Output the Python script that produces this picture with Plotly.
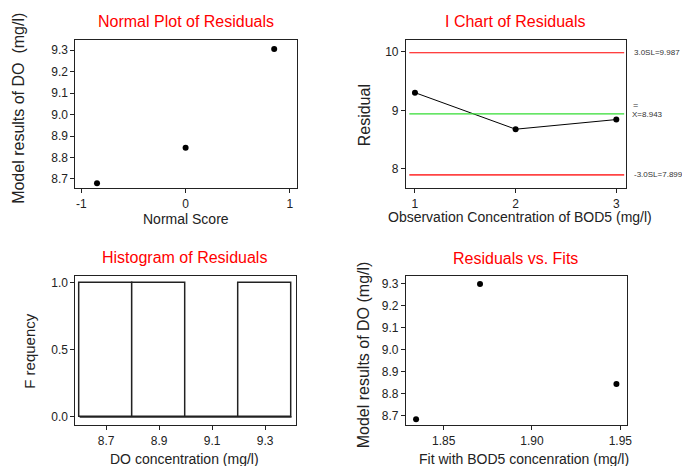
import plotly.graph_objects as go

# ---- data ----
normal_scores = [-0.85, 0.0, 0.85]
do_sorted = [8.68, 8.845, 9.305]

obs_index = [1, 2, 3]
residuals = [9.305, 8.68, 8.845]
center_line = 8.943
ucl = 9.987
lcl = 7.899

hist_left = [8.6, 8.8, 9.0, 9.2]
hist_right = [8.8, 9.0, 9.2, 9.4]
hist_counts = [1, 1, 0, 1]

fits = [1.8344, 1.8706, 1.9478]
fit_do = [8.685, 9.30, 8.845]

W, H = 682, 466
FONT = "Liberation Sans, Arial, sans-serif"


def dx(a, b):
    return [a / W, b / W]


def dy(top, bottom):
    return [1 - bottom / H, 1 - top / H]


fig = go.Figure()

# Panel 1: Normal plot
fig.add_trace(go.Scatter(x=normal_scores, y=do_sorted, mode="markers",
                         marker=dict(color="black", size=6), xaxis="x", yaxis="y"))

# Panel 2: I chart
fig.add_trace(go.Scatter(x=obs_index, y=residuals, mode="lines+markers",
                         line=dict(color="black", width=1),
                         marker=dict(color="black", size=6), xaxis="x2", yaxis="y2"))

# Panel 3: histogram
centers = [(a + b) / 2 for a, b in zip(hist_left, hist_right)]
widths = [b - a for a, b in zip(hist_left, hist_right)]
fig.add_trace(go.Bar(x=centers, y=hist_counts, width=widths,
                     marker=dict(color="white", line=dict(color="#222", width=1.5)),
                     xaxis="x3", yaxis="y3"))
# outline of zero-height bins along the baseline
fig.add_trace(go.Scatter(x=[hist_left[0], hist_right[-1]], y=[0, 0], mode="lines",
                         line=dict(color="#222", width=1.5), xaxis="x3", yaxis="y3"))

# Panel 4: residuals vs fits
fig.add_trace(go.Scatter(x=fits, y=fit_do, mode="markers",
                         marker=dict(color="black", size=6), xaxis="x4", yaxis="y4"))

axis_common = dict(showline=True, linecolor="#222", linewidth=1.2, mirror=True,
                   ticks="outside", ticklen=4, tickcolor="#222", showgrid=False,
                   zeroline=False, tickfont=dict(family=FONT, size=12, color="#222"))

fig.update_layout(
    width=W, height=H, margin=dict(l=0, r=0, t=0, b=0),
    paper_bgcolor="white", plot_bgcolor="white", showlegend=False,
    font=dict(family=FONT, color="#222"),
    bargap=0,
    xaxis=dict(domain=dx(76, 299), anchor="y", range=[-1.057, 1.067],
               tickvals=[-1, 0, 1], ticktext=["-1", "0", "1"], **axis_common),
    yaxis=dict(domain=dy(40, 188), anchor="x", range=[8.658, 9.347],
               tickvals=[8.7, 8.8, 8.9, 9.0, 9.1, 9.2, 9.3], tickformat=".1f", **axis_common),
    xaxis2=dict(domain=dx(409, 631), anchor="y2", range=[0.911, 3.1],
                tickvals=[1, 2, 3], **axis_common),
    yaxis2=dict(domain=dy(40, 188), anchor="x2", range=[7.675, 10.205],
                tickvals=[8, 9, 10], **axis_common),
    xaxis3=dict(domain=dx(76, 298), anchor="y3", range=[8.584, 9.416],
                tickvals=[8.7, 8.9, 9.1, 9.3], tickformat=".1f", **axis_common),
    yaxis3=dict(domain=dy(276, 425), anchor="x3", range=[-0.06, 1.052],
                tickvals=[0, 0.5, 1.0], tickformat=".1f", **axis_common),
    xaxis4=dict(domain=dx(409, 632), anchor="y4", range=[1.8287, 1.954],
                tickvals=[1.85, 1.90, 1.95], tickformat=".2f", **axis_common),
    yaxis4=dict(domain=dy(276, 425), anchor="x4", range=[8.659, 9.336],
                tickvals=[8.7, 8.8, 8.9, 9.0, 9.1, 9.2, 9.3], tickformat=".1f", **axis_common),
)

# control lines for I chart
for val, col, w in [(ucl, "#ff0000", 1.2), (center_line, "#33dd33", 1.2), (lcl, "#ff4444", 1.8)]:
    fig.add_shape(type="line", xref="x2 domain", yref="y2", x0=0.015, x1=0.99,
                  y0=val, y1=val, line=dict(color=col, width=w))

annotations = []


def ann(text, x, y, size, color="#222", angle=0, xanchor="center", yanchor="middle",
        yref="paper"):
    annotations.append(dict(text=text, x=x, y=y, xref="paper", yref=yref,
                            showarrow=False, textangle=angle, xanchor=xanchor,
                            yanchor=yanchor,
                            font=dict(family=FONT, size=size, color=color)))


# titles
ann("Normal Plot of Residuals", 187 / W, 1 - 22 / H, 16, color="#ff0000")
ann("I Chart of Residuals", 519 / W, 1 - 22 / H, 16, color="#ff0000")
ann("Histogram of Residuals", 186 / W, 1 - 257 / H, 16, color="#ff0000")
ann("Residuals vs. Fits", 519 / W, 1 - 258 / H, 16, color="#ff0000")

# axis titles
ann("Normal Score", 187 / W, 1 - 219 / H, 14)
ann("Model results of DO  (mg/l)", 18 / W, 1 - 108 / H, 16, angle=-90)
ann("Observation Concentration of BOD5 (mg/l)", 524 / W, 1 - 217 / H, 14)
ann("Residual", 367 / W, 1 - 115 / H, 16, angle=-90)
ann("DO concentration (mg/l)", 186 / W, 1 - 459 / H, 14)
ann("F requency", 29 / W, 1 - 351 / H, 15, angle=-90)
ann("Fit with BOD5 concenration (mg/l)", 528 / W, 1 - 459 / H, 14)
ann("Model results of DO (mg/l)", 366 / W, 1 - 355 / H, 16, angle=-90)

# control limit labels
annotations.append(dict(text="3.0SL=%.3f" % ucl, x=637 / W, y=ucl, xref="paper", yref="y2",
                        showarrow=False, xanchor="left", yanchor="middle",
                        font=dict(family=FONT, size=8, color="#333")))
annotations.append(dict(text="=", x=636 / W, y=center_line,
                        xref="paper", yref="y2", showarrow=False, xanchor="left",
                        yanchor="middle", yshift=9,
                        font=dict(family=FONT, size=9, color="#333")))
annotations.append(dict(text="X=%.3f" % center_line, x=635 / W, y=center_line,
                        xref="paper", yref="y2", showarrow=False, xanchor="left",
                        yanchor="middle", yshift=-1,
                        font=dict(family=FONT, size=8, color="#333")))
annotations.append(dict(text="-3.0SL=%.3f" % lcl, x=637 / W, y=lcl, xref="paper", yref="y2",
                        showarrow=False, xanchor="left", yanchor="middle",
                        font=dict(family=FONT, size=8, color="#333")))

fig.update_layout(annotations=annotations)

fig.write_html("out.html", config={"displayModeBar": False},
               post_script="document.body.style.margin='0';document.body.style.overflow='hidden';")
